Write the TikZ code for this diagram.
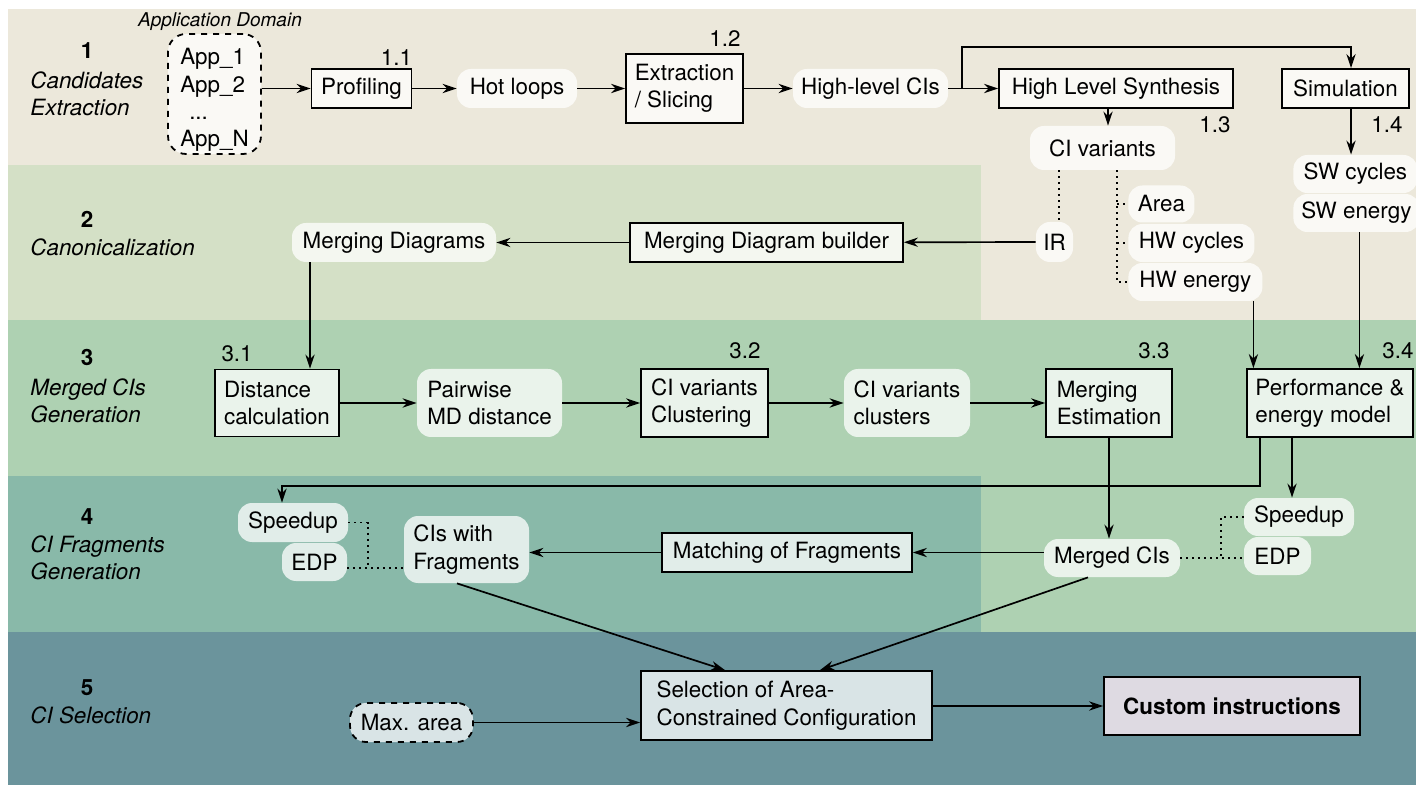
\documentclass[tikz,border=0pt]{standalone}
\usepackage{fontspec}
\setmainfont{TeX Gyre Heros}
\usetikzlibrary{arrows.meta,calc}
\definecolor{bandA}{HTML}{ECE8DB}
\definecolor{bandB}{HTML}{D4E0C6}
\definecolor{bandC}{HTML}{AED1B2}
\definecolor{bandD}{HTML}{89B9A9}
\definecolor{bandE}{HTML}{6B949C}
\definecolor{resultfill}{HTML}{DEDAE2}
\begin{document}
\begin{tikzpicture}[x=0.5pt,y=-0.5pt,
  every node/.style={font=\fontsize{11.2}{13.6}\selectfont},
  box/.style={draw, line width=0.9pt, fill=white, fill opacity=0.75, text opacity=1, inner sep=2pt, align=left},
  pill/.style={fill=white, fill opacity=0.75, text opacity=1, rounded corners=7pt, inner sep=2pt, align=left},
  arr/.style={line width=0.85pt, -{Stealth[length=7pt,width=4.6pt,inset=2.2pt]}},
  dot/.style={line width=0.9pt, dash pattern=on 0.9pt off 2.1pt},
  stnum/.style={font=\fontsize{11.2}{13.6}\selectfont\bfseries, inner sep=0pt},
  sttxt/.style={font=\fontsize{11.2}{13.6}\selectfont\itshape, anchor=west, align=left, inner sep=0pt},
  idx/.style={inner sep=0pt}
]
\useasboundingbox (0,0) rectangle (1422,785);

% stage bands
\fill[bandA] (8,9) rectangle (1416,165);
\fill[bandA] (981,165) rectangle (1416,320);
\fill[bandB] (8,165) rectangle (981,320);
\fill[bandC] (8,320) rectangle (1416,476);
\fill[bandC] (981,476) rectangle (1416,632);
\fill[bandD] (8,476) rectangle (981,632);
\fill[bandE] (8,632) rectangle (1416,785);

% stage titles
\node[stnum] (s1) at (87,51) {1};
\node[sttxt] (s1t) at (30,94) {Candidates\\Extraction};
\node[stnum] (s2) at (87,219) {2};
\node[sttxt] (s2t) at (30,247) {Canonicalization};
\node[stnum] (s3) at (87,357) {3};
\node[sttxt] (s3t) at (30,401) {Merged CIs\\Generation};
\node[stnum] (s4) at (87,517) {4};
\node[sttxt] (s4t) at (30,558) {CI Fragments\\Generation};
\node[stnum] (s5) at (87,688) {5};
\node[sttxt] (s5t) at (30,715) {CI Selection};

% stage 1: candidates extraction
\node[font=\fontsize{9.5}{11}\selectfont\itshape, inner sep=0pt] (dom) at (220,22) {Application Domain};
\node[pill, draw, dashed, line width=0.9pt, rounded corners=9pt, minimum width=46.5pt, minimum height=60pt] (apps) at (214.5,94) {};
\node[align=left, inner sep=0pt] (appstxt) at (214.5,100) {App\_1\\App\_2\\\hspace*{4.5pt}...\\App\_N};
\node[box, minimum width=50pt, minimum height=19.5pt] (prof) at (361.5,88.5) {Profiling};
\node[pill, minimum width=60pt, minimum height=19.5pt, align=center] (hot) at (517,88.5) {Hot loops};
\node[box, minimum width=58.5pt, minimum height=34.5pt] (ext) at (684.5,88.5) {Extraction\\/ Slicing};
\node[pill, minimum width=77.5pt, minimum height=19.5pt, align=center] (hlci) at (870.5,88.5) {High-level CIs};
\node[box, minimum width=117pt, minimum height=19.5pt] (hls) at (1116,88.5) {High Level Synthesis};
\node[box, minimum width=63.5pt, minimum height=19.5pt] (sim) at (1345.5,88.5) {Simulation};
\node[pill, minimum width=72.5pt, minimum height=22pt, align=center] (civar) at (1102.5,148) {CI variants};
\node[pill, minimum width=18.5pt, minimum height=20pt, align=center, inner sep=1pt] (ir) at (1054.5,242) {IR};
\node[pill, anchor=west, minimum width=33pt, minimum height=18.5pt] (area) at (1128,204) {Area};
\node[pill, anchor=west, minimum width=63pt, minimum height=19pt] (hwc) at (1128,243) {HW cycles};
\node[pill, anchor=west, minimum width=67pt, minimum height=19pt] (hwe) at (1128,282) {HW energy};
\node[pill, anchor=west, minimum width=62pt, minimum height=19pt] (swc) at (1293,174) {SW cycles};
\node[pill, anchor=west, minimum width=63pt, minimum height=19pt] (swe) at (1293,213) {SW energy};

\node[idx, anchor=base east] at ([yshift=1.5pt]prof.north east) {1.1};
\node[idx, anchor=base east] at ([xshift=-1.5pt,yshift=3.5pt]ext.north east) {1.2};
\node[idx, anchor=north east] at ([xshift=-1.5pt,yshift=-3.5pt]hls.south east) {1.3};
\node[idx, anchor=north east] at ([xshift=-3.5pt,yshift=-3.5pt]sim.south east) {1.4};

% stage 2: canonicalization
\node[pill, minimum width=102pt, minimum height=19.5pt, align=center] (mdiag) at (394,242.5) {Merging Diagrams};
\node[box, minimum width=136.5pt, minimum height=19.5pt] (mdb) at (766.5,242.5) {Merging Diagram builder};

% stage 3: merged CIs generation
\node[box, minimum width=62pt, minimum height=33.5pt] (dist) at (277,403) {Distance\\calculation};
\node[pill, minimum width=72.5pt, minimum height=34pt] (pair) at (489.5,403) {Pairwise\\MD distance};
\node[box, minimum width=63.5pt, minimum height=34pt] (clus) at (704.5,403) {CI variants\\Clustering};
\node[pill, minimum width=63pt, minimum height=34pt] (clst) at (907,403) {CI variants\\clusters};
\node[box, minimum width=63pt, minimum height=34pt] (mest) at (1109,403) {Merging\\Estimation};
\node[box, minimum width=83pt, minimum height=34pt] (perf) at (1330,403) {Performance \&\\energy model};

\node[idx, anchor=base west] at ([xshift=3.5pt,yshift=3.5pt]dist.north west) {3.1};
\node[idx, anchor=base east] at ([xshift=-4pt,yshift=5pt]clus.north east) {3.2};
\node[idx, anchor=base east] at ([xshift=-1.5pt,yshift=5pt]mest.north east) {3.3};
\node[idx, anchor=base east] at ([xshift=0pt,yshift=5pt]perf.north east) {3.4};

% stage 4: CI fragments generation
\node[pill, minimum width=55pt, minimum height=19.5pt, align=center] (spL) at (293,522.5) {Speedup};
\node[pill, minimum width=32.5pt, minimum height=19pt, align=center] (edpL) at (314.5,562) {EDP};
\node[pill, minimum width=62.5pt, minimum height=33.5pt] (cif) at (466.5,549.5) {CIs with\\Fragments};
\node[box, minimum width=125pt, minimum height=19.5pt] (match) at (787,552.5) {Matching of Fragments};
\node[pill, minimum width=68pt, minimum height=19pt, align=center] (mci) at (1112,558) {Merged CIs};
\node[pill, minimum width=55pt, minimum height=19pt, align=center] (spR) at (1299,517) {Speedup};
\node[pill, minimum width=33.5pt, minimum height=19pt, align=center] (edpR) at (1277.5,556) {EDP};

% stage 5: CI selection
\node[pill, draw, dashed, line width=0.9pt, rounded corners=8pt, minimum width=61.5pt, minimum height=19.5pt, align=center] (maxa) at (411.5,722.5) {Max. area};
\node[box, minimum width=145.5pt, minimum height=34.5pt] (sel) at (786.5,705.5) {Selection of Area-\\Constrained Configuration};
\node[box, fill=resultfill, fill opacity=1, minimum width=128pt, minimum height=29pt, font=\fontsize{11.2}{13.6}\selectfont\bfseries] (ci) at (1232,706) {Custom instructions};

% connectors, stage 1
\draw[arr] (apps.east |- prof.west) -- (prof.west);
\draw[arr] (prof) -- (hot);
\draw[arr] (hot) -- (ext);
\draw[arr] (ext) -- (hlci);
\draw[arr] (hlci) -- (hls);
\coordinate (br) at (962,88.5);
\draw[arr] (br) -- (962,47) -| ([xshift=2.75pt]sim.north);
\draw[arr] ([xshift=2.75pt]civar.north |- hls.south) -- ([xshift=2.75pt]civar.north);
\draw[arr] ([xshift=2.75pt]sim.south) -- ([xshift=2.75pt]sim.south |- swc.north);
\draw[dot] ([xshift=2.25pt]ir.north |- civar.south) -- ([xshift=2.25pt]ir.north);
\coordinate (vb) at ([xshift=7.25pt]civar.south);
\draw[dot] (vb) |- (hwe.west);
\draw[dot] (vb |- area.west) -- (area.west);
\draw[dot] (vb |- hwc.west) -- (hwc.west);

% connectors, stage 2
\draw[arr] (ir) -- (mdb);
\draw[arr] (mdb) -- (mdiag);
\draw[arr] ([xshift=-42pt]mdiag.south) -- ([xshift=-42pt]mdiag.south |- dist.north);

% connectors, stage 3
\draw[arr] (dist) -- (pair);
\draw[arr] (pair) -- (clus);
\draw[arr] (clus) -- (clst);
\draw[arr] (clst) -- (mest);
\draw[arr] ([xshift=29pt]hwe.south) -- ([xshift=29pt]hwe.south |- perf.north);
\draw[arr] ([xshift=1.5pt]swe.south) -- ([xshift=1.5pt]swe.south |- perf.north);

% connectors, stage 4
\draw[arr] ([xshift=-35pt]perf.south) -- ++(0,48) -| ([xshift=-5.5pt]spL.north);
\draw[arr] ([xshift=-19pt]perf.south) -- ([xshift=-19pt]perf.south |- spR.north);
\draw[arr] (mest.south) -- (mest.south |- mci.north);
\draw[arr] (match.east -| mci.west) -- (match.east);
\draw[arr] (match.west) -- (match.west -| cif.east);
\draw[dot] (mci.east) -- (mci.east -| edpR.west);
\coordinate (dR) at (1221,558);
\draw[dot] (spR.west) -| (dR);
\coordinate (dL) at (368,568);
\draw[dot] (spL.east) -| (dL);
\draw[dot] (edpL.east |- dL) -- (cif.west |- dL);

% connectors, stage 5
\draw[arr] ([xshift=-4.75pt]cif.south) -- ([xshift=-30.75pt]sel.north);
\draw[arr] ([xshift=-12pt]mci.south) -- ([xshift=16.75pt]sel.north);
\draw[arr] (maxa.east) -- (maxa.east -| sel.west);
\draw[arr] (sel.east |- ci.west) -- (ci.west);
\end{tikzpicture}
\end{document}
